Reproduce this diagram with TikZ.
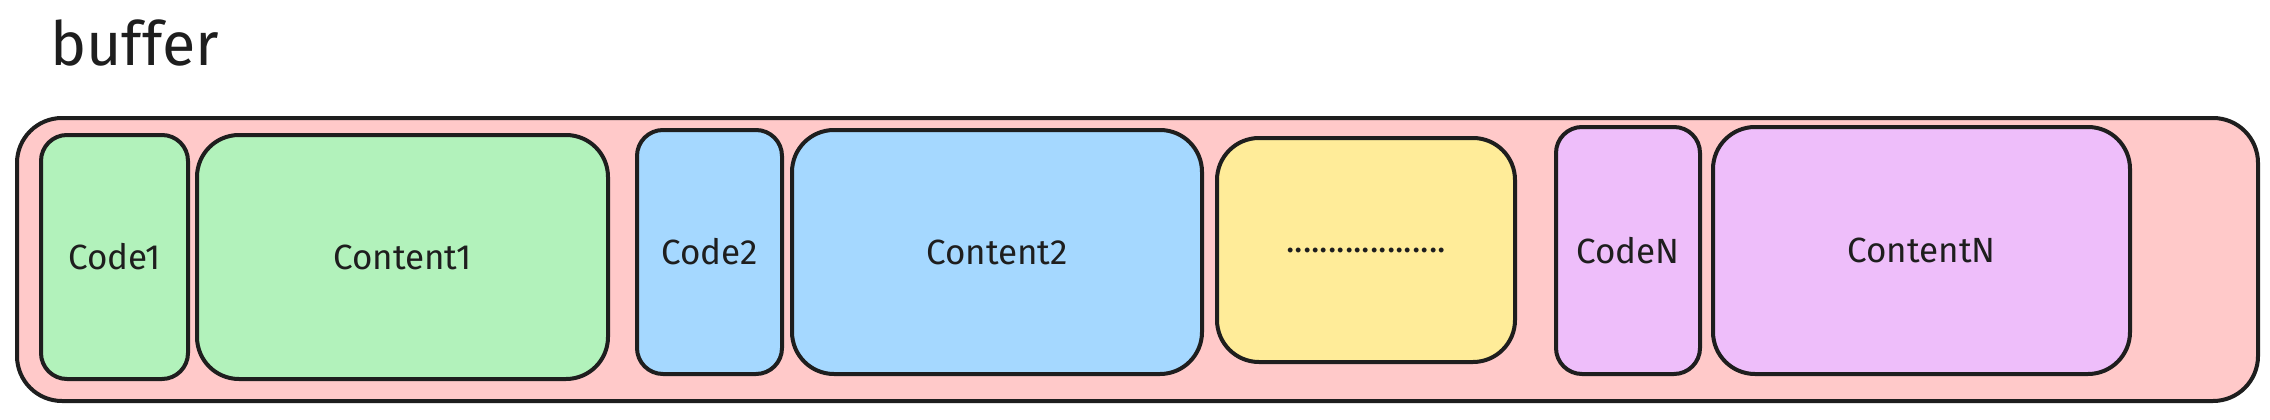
\documentclass[tikz,border=0pt]{standalone}
\usepackage{fontspec}
\setmainfont{Fira Sans}
\definecolor{ink}{HTML}{1E1E1E}
\definecolor{redfill}{HTML}{FFC9C9}
\definecolor{greenfill}{HTML}{B2F2BB}
\definecolor{bluefill}{HTML}{A5D8FF}
\definecolor{yellowfill}{HTML}{FFEC99}
\definecolor{purplefill}{HTML}{EEBEFA}
\begin{document}
\begin{tikzpicture}[x=1pt,y=-1pt,
  box/.style={draw=ink, line width=4pt, inner sep=0pt, text=ink,
    font=\fontsize{35}{42}\selectfont},
  sketch/.style={draw=ink, line width=1.6pt},
  title/.style={text=ink, inner sep=0pt, font=\fontsize{61}{68}\selectfont}]
\useasboundingbox (0,0) rectangle (2270,420);
\fill[white] (0,0) rectangle (2270,420);

\node[title, anchor=base west] (title) at (50,66) {buffer};

\node[box, fill=redfill, rounded corners=45pt, minimum width=2241pt, minimum height=283pt] (outer) at (1137.5,259.5) {};

\node[box, fill=greenfill, rounded corners=26pt, minimum width=147pt, minimum height=244pt] (code1) at (114.5,257) {Code1};
\node[box, fill=greenfill, rounded corners=42pt, minimum width=411pt, minimum height=244pt] (content1) at (402.5,257) {Content1};
\node[box, fill=bluefill, rounded corners=26pt, minimum width=145pt, minimum height=244pt] (code2) at (709.5,252) {Code2};
\node[box, fill=bluefill, rounded corners=42pt, minimum width=410pt, minimum height=244pt] (content2) at (997,252) {Content2};
\node[box, fill=yellowfill, rounded corners=42pt, minimum width=298pt, minimum height=224pt] (dots) at (1366,250) {...................};
\node[box, fill=purplefill, rounded corners=26pt, minimum width=144pt, minimum height=247pt] (coden) at (1628,250.5) {CodeN};
\node[box, fill=purplefill, rounded corners=42pt, minimum width=417pt, minimum height=247pt] (contentn) at (1921.5,250.5) {ContentN};

\foreach \n/\r in {outer/45,code1/26,content1/42,code2/26,content2/42,dots/42,coden/26,contentn/42}
  \draw[sketch, rounded corners=\r pt] ([shift={(2pt,-2.5pt)}]\n.north west) rectangle ([shift={(-1.5pt,2pt)}]\n.south east);
\end{tikzpicture}
\end{document}
